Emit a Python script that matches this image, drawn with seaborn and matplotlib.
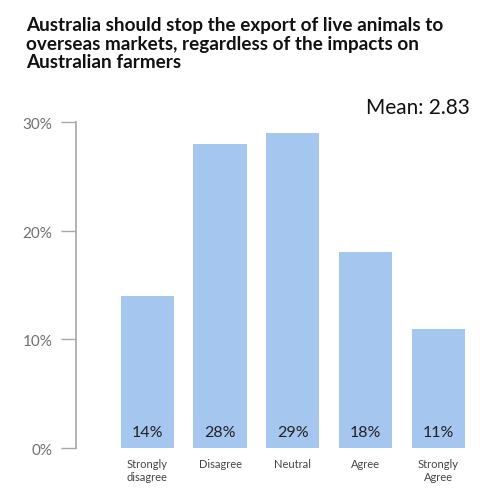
import matplotlib
matplotlib.use("Agg")
import matplotlib.pyplot as plt
import matplotlib.transforms as mtransforms
import seaborn as sns
import pandas as pd

# Data
categories = ["Strongly\ndisagree", "Disagree", "Neutral", "Agree", "Strongly\nAgree"]
shares = [0.14, 0.28, 0.29, 0.18, 0.11]
mean_score = 2.83
title = ("Australia should stop the export of live animals to\n"
         "overseas markets, regardless of the impacts on\n"
         "Australian farmers")

df = pd.DataFrame({"Response": categories, "Share": shares})

sns.set_theme(style="white")
plt.rcParams["font.family"] = ["Lato", "DejaVu Sans"]

fig = plt.figure(figsize=(5.03, 4.96), dpi=100)
ax = fig.add_axes([0.151, 0.0968, 0.803, 0.657])

sns.barplot(data=df, x="Response", y="Share", color="#A4C6EF",
            saturation=1, width=0.73, linewidth=0, ax=ax)

# Percent labels near the bottom of each bar
for p, v in zip(ax.patches, shares):
    ax.text(p.get_x() + p.get_width() / 2, 0.014, f"{v:.0%}",
            ha="center", va="center", fontsize=11.5, color="#222222")

ax.set_xlim(-0.98, 4.57)
ax.set_ylim(0, 0.30)
ax.set_yticks([0, 0.1, 0.2, 0.3])
ax.set_yticklabels(["0%", "10%", "20%", "30%"])
ax.set_xlabel("")
ax.set_ylabel("")

sns.despine(ax=ax, bottom=True)
ax.spines["left"].set_color("#A8A8A8")
ax.tick_params(axis="y", left=True, length=11, width=1, color="#A8A8A8",
               labelsize=11, labelcolor="#707070", pad=6)
ax.tick_params(axis="x", bottom=False, labelsize=8, labelcolor="#444444", pad=2)
shift = mtransforms.ScaledTranslation(0, -3 / 100, fig.dpi_scale_trans)
for lbl in ax.get_yticklabels():
    lbl.set_va("center")
    lbl.set_transform(lbl.get_transform() + shift)

fig.text(0.052, 0.966, title, ha="left", va="top", fontsize=13.6,
         fontweight="bold", color="#111111", linespacing=1.12)
fig.text(0.935, 0.782, f"Mean: {mean_score:.2f}", ha="right", va="center",
         fontsize=15, color="#111111")

fig.savefig("out.png", dpi=100)
